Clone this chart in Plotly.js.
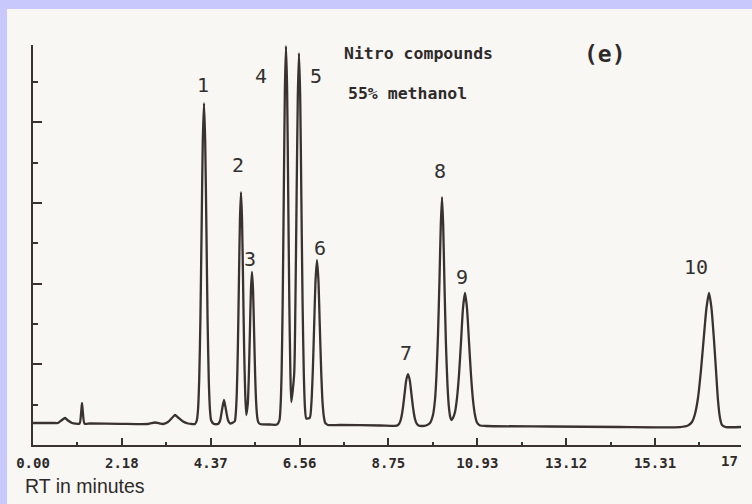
<!DOCTYPE html>
<html>
<head>
<meta charset="utf-8">
<script src="https://cdn.plot.ly/plotly-3.0.1.min.js"></script>
<style>
  html, body { margin: 0; padding: 0; }
  body { width: 752px; height: 504px; background: rgb(200, 200, 252); position: relative; overflow: hidden; }
  #chart { position: absolute; left: 7px; top: 9px; width: 745px; height: 495px; }
</style>
</head>
<body>
<div id="chart"></div>
<script>
// Retention time (min) and detector signal of the chromatogram trace
const rtMinutes = [
  0.000, 0.542, 0.615, 0.714, 0.788, 0.862, 0.960, 1.145, 1.182, 1.206, 1.231, 1.268, 1.403,
  2.142, 2.831, 3.003, 3.126, 3.200, 3.323, 3.422, 3.496, 3.570, 3.693, 3.816, 3.914, 3.988,
  4.032, 4.062, 4.091, 4.121, 4.151, 4.180, 4.210, 4.239, 4.269, 4.298, 4.328, 4.357, 4.387, 4.456,
  4.554, 4.604, 4.653, 4.702, 4.751, 4.800, 4.850,
  4.965, 4.991, 5.017, 5.043, 5.069, 5.095, 5.121, 5.146, 5.172, 5.198, 5.224, 5.251,
  5.288, 5.314, 5.340, 5.365, 5.391, 5.417, 5.443, 5.469, 5.495, 5.521, 5.547, 5.588, 5.834,
  6.007, 6.066, 6.093, 6.120, 6.147, 6.174, 6.201, 6.228, 6.256, 6.283, 6.310, 6.337, 6.359,
  6.430, 6.460, 6.489, 6.519, 6.548, 6.578, 6.607, 6.637, 6.667, 6.696, 6.728,
  6.814, 6.854, 6.888, 6.922, 6.957, 6.991, 7.026, 7.060, 7.095, 7.129, 7.164, 7.198, 7.262,
  7.558, 8.542, 8.912,
  8.973, 9.016, 9.059, 9.103, 9.146, 9.189, 9.232, 9.275, 9.318, 9.361, 9.404, 9.447, 9.490, 9.576,
  9.675, 9.773, 9.847, 9.896, 9.933, 9.970, 10.007, 10.039, 10.069, 10.098, 10.130, 10.167, 10.204, 10.241, 10.278, 10.302,
  10.339, 10.389, 10.438, 10.487, 10.537, 10.586, 10.635, 10.684, 10.734, 10.783, 10.832, 10.881, 10.930, 11.004, 11.152,
  12.728, 14.451, 15.928,
  16.125, 16.223, 16.297, 16.371, 16.445, 16.519, 16.580, 16.642, 16.703, 16.765, 16.814, 16.863, 16.913, 16.962, 17.060, 17.430
];
const signal = [
  5.45, 5.45, 5.45, 6.20, 6.69, 6.07, 5.45, 5.33, 7.69, 10.41, 7.69, 5.33, 5.33,
  5.26, 5.21, 5.58, 5.33, 5.21, 5.70, 6.69, 7.44, 6.82, 5.83, 5.33, 5.21, 5.21,
  6.07, 8.68, 15.87, 30.99, 53.56, 75.38, 84.80, 75.38, 53.56, 30.99, 15.87, 8.68, 6.07, 5.21,
  5.21, 5.95, 8.68, 11.16, 8.68, 6.20, 5.33,
  5.85, 7.69, 12.89, 23.80, 40.17, 56.04, 62.73, 56.04, 40.17, 23.80, 12.89, 7.44,
  10.29, 17.36, 28.02, 38.43, 42.90, 38.43, 28.02, 17.36, 10.29, 6.87, 5.63, 5.21, 5.08,
  5.08, 6.07, 9.30, 17.73, 35.58, 62.11, 88.15, 98.93, 88.15, 62.11, 35.58, 17.73, 10.66,
  17.60, 35.08, 61.00, 86.29, 97.20, 86.29, 61.00, 35.08, 17.60, 9.17, 6.57,
  6.77, 10.41, 18.25, 29.75, 41.04, 45.87, 41.04, 29.75, 18.25, 10.41, 6.77, 5.41, 4.96,
  4.96, 4.84, 4.76,
  4.86, 5.28, 6.45, 8.93, 12.55, 16.09, 17.60, 16.09, 12.55, 8.93, 6.45, 5.28, 4.86, 4.71,
  4.84, 5.45, 7.44, 11.16, 17.36, 27.27, 40.91, 54.55, 61.49, 54.55, 39.67, 24.80, 14.88, 9.17, 6.69, 6.20,
  6.69, 8.18, 11.65, 17.36, 25.54, 33.97, 37.69, 33.97, 25.54, 17.36, 11.16, 7.44, 5.58, 4.84, 4.71,
  4.59, 4.46, 4.46,
  4.84, 5.70, 7.69, 11.65, 18.60, 27.27, 33.97, 37.69, 33.97, 26.03, 18.60, 11.16, 6.69, 4.96, 4.46, 4.46
];

// Peak numbers and where each number is written
const peakNames   = ['1', '2', '3', '4', '5', '6', '7', '8', '9', '10'];
const labelRT     = [4.185, 5.035, 5.342, 5.613, 6.966, 7.066, 9.183, 10.020, 10.561, 16.322];
const labelSignal = [89.26, 69.43, 46.12, 91.50, 91.50, 48.85, 22.81, 67.94, 41.66, 44.14];

// Time axis ticks (one division = 2.1875 min)
const xTickVals = [0, 2.1875, 4.375, 6.5625, 8.75, 10.9375, 13.125, 15.3125];
const xTickText = ['0.00', '2.18', '4.37', '6.56', '8.75', '10.93', '13.12', '15.31'];
const xEndLabel = '17';

const ink = '#3a3131';
const paperColor = '#f8f7f4';
const mono = 'DejaVu Sans Mono, monospace';

const trace = {
  x: rtMinutes,
  y: signal,
  type: 'scatter',
  mode: 'lines',
  line: { color: ink, width: 2.3, shape: 'spline', smoothing: 0.6 },
  hoverinfo: 'skip'
};

const annotations = peakNames.map((name, i) => ({
  x: labelRT[i], y: labelSignal[i], xref: 'x', yref: 'y',
  text: name, showarrow: false, xanchor: 'center', yanchor: 'middle',
  font: { family: mono, size: 20, color: '#333030' }
}));

annotations.push(
  { xref: 'paper', yref: 'paper', x: 0.5438, y: 0.98, text: 'Nitro compounds',
    showarrow: false, xanchor: 'center', yanchor: 'middle',
    font: { family: mono, size: 16.5, color: '#2e2a2a', weight: 'bold' } },
  { xref: 'paper', yref: 'paper', x: 0.529, y: 0.88, text: '55% methanol',
    showarrow: false, xanchor: 'center', yanchor: 'middle',
    font: { family: mono, size: 16.5, color: '#2e2a2a', weight: 'bold' } },
  { xref: 'paper', yref: 'paper', x: 0.8086, y: 0.9775, text: '(e)',
    showarrow: false, xanchor: 'center', yanchor: 'middle',
    font: { family: mono, size: 23, color: '#2e2a2a', weight: 'bold' } },
  { xref: 'paper', yref: 'paper', x: 1, y: -0.04, text: xEndLabel,
    showarrow: false, xanchor: 'right', yanchor: 'middle', xshift: -1,
    font: { family: mono, size: 14, color: '#2e2a2a', weight: 'bold' } },
  { xref: 'paper', yref: 'paper', x: -0.0141, y: -0.1025, text: 'RT in minutes',
    showarrow: false, xanchor: 'left', yanchor: 'middle',
    font: { family: 'Liberation Sans, Arial, sans-serif', size: 19.5, color: '#2e2a2a' } }
);

const layout = {
  width: 745,
  height: 495,
  margin: { l: 26, r: 11, t: 36, b: 59, pad: 0 },
  paper_bgcolor: paperColor,
  plot_bgcolor: paperColor,
  showlegend: false,
  xaxis: {
    range: [0, 17.43],
    showline: true, linecolor: ink, linewidth: 2,
    showgrid: false, zeroline: false,
    tickmode: 'array', tickvals: xTickVals, ticktext: xTickText,
    ticks: 'inside', ticklen: 7, tickwidth: 2, tickcolor: ink,
    minor: { tickmode: 'linear', tick0: 1.09375, dtick: 2.1875, ticks: 'inside', ticklen: 3, tickwidth: 2, tickcolor: ink },
    tickfont: { family: mono, size: 14, color: '#2e2a2a', weight: 'bold' },
    ticklabelstandoff: 4
  },
  yaxis: {
    range: [0, 99.2],
    showline: true, linecolor: ink, linewidth: 2,
    showgrid: false, zeroline: false,
    showticklabels: false,
    tickmode: 'linear', tick0: 0, dtick: 20,
    ticks: 'inside', ticklen: 9, tickwidth: 2, tickcolor: ink,
    minor: { tickmode: 'linear', tick0: 10, dtick: 20, ticks: 'inside', ticklen: 5, tickwidth: 2, tickcolor: ink }
  },
  annotations: annotations
};

Plotly.newPlot('chart', [trace], layout, { staticPlot: true, displayModeBar: false });
</script>
</body>
</html>
